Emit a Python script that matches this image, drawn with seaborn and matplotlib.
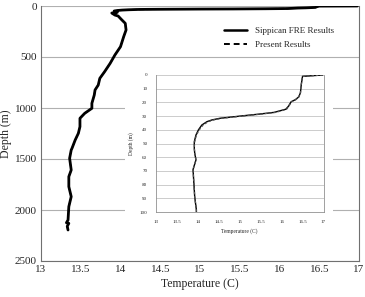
import numpy as np
import pandas as pd
import seaborn as sns
import matplotlib
matplotlib.use("Agg")
import matplotlib.pyplot as plt
from matplotlib.patches import Rectangle
from matplotlib.lines import Line2D

# full profile (depth m, temperature C) - Sippican FRE
deep_depth = [0, 1, 7, 14, 18, 20, 23, 25, 27, 29, 30, 32, 33, 34, 37, 40, 44, 49, 57, 62, 69,
              79, 89, 98, 131, 170, 235, 301, 399, 480, 562, 644, 709, 775, 823, 873, 954, 1003,
              1052, 1101, 1183, 1248, 1314, 1395, 1412, 1493, 1608, 1673, 1771, 1869, 1967,
              2098, 2125, 2131, 2160, 2196]
deep_temp = [16.98, 16.5, 16.47, 16.45, 16.33, 16.23, 16.16, 16.1, 15.82, 15.42, 15.01, 14.53,
             14.34, 14.22, 14.1, 14.02, 13.96, 13.92, 13.93, 13.96, 13.89, 13.91, 13.93, 13.97,
             14.01, 14.06, 14.07, 14.04, 14.0, 13.93, 13.87, 13.8, 13.74, 13.72, 13.68, 13.67,
             13.64, 13.64, 13.55, 13.49, 13.49, 13.47, 13.43, 13.39, 13.38, 13.36, 13.38, 13.35,
             13.35, 13.38, 13.35, 13.34, 13.32, 13.35, 13.33, 13.34]

# upper 100 m, Sippican FRE
fre_depth = [0, 1, 7, 13, 16, 18, 19.5, 23, 25, 27.3, 28.7, 30, 31.6, 32.8, 34.1, 36.5, 40,
             43.8, 48.7, 53.5, 57, 62, 69, 79, 89, 98.5, 100]
fre_temp = [16.98, 16.5, 16.47, 16.45, 16.41, 16.33, 16.23, 16.16, 16.1, 15.82, 15.42, 15.01,
            14.53, 14.34, 14.22, 14.1, 14.02, 13.96, 13.92, 13.92, 13.93, 13.96, 13.89, 13.91,
            13.93, 13.97, 13.97]

# upper 100 m, present results
pres_depth = [0, 1, 7, 13, 16, 18, 19.5, 23, 25, 27.3, 28.7, 30, 31.6, 32.8, 34.1, 36.5, 40,
              43.8, 48.7, 53.5, 57, 62, 69, 79, 89, 98.5, 100]
pres_temp = [16.98, 16.5, 16.47, 16.45, 16.41, 16.34, 16.24, 16.17, 16.12, 15.86, 15.47, 15.06,
             14.58, 14.38, 14.25, 14.13, 14.04, 13.97, 13.93, 13.92, 13.93, 13.96, 13.89, 13.91,
             13.93, 13.97, 13.97]

xticks = [13, 13.5, 14, 14.5, 15, 15.5, 16, 16.5, 17]
main_yticks = [0, 500, 1000, 1500, 2000, 2500]
inset_yticks = [0, 10, 20, 30, 40, 50, 60, 70, 80, 90, 100]

sns.set_style("white")
plt.rcParams["font.family"] = ["Liberation Serif", "DejaVu Serif"]

W, H = 365, 297
fig = plt.figure(figsize=(W / 100, H / 100), dpi=100)

def box(l, t, r, b):
    return [l / W, 1 - b / H, (r - l) / W, (b - t) / H]

ax = fig.add_axes(box(41, 6, 359, 261))
sns.lineplot(x=deep_temp, y=deep_depth, sort=False, estimator=None, color="black",
             linewidth=2.0, ax=ax)
sns.lineplot(x=deep_temp, y=deep_depth, sort=False, estimator=None, color="black",
             linewidth=1.0, linestyle="--", ax=ax)
ax.set_xlim(13, 17)
ax.set_ylim(2500, 0)
ax.set_xticks(xticks)
ax.set_xticklabels([f"{t:g}" for t in xticks])
ax.set_yticks(main_yticks)
ax.yaxis.grid(True, color="#b0b0b0", linewidth=0.8)
ax.tick_params(length=0, labelsize=8, pad=3)
ax.set_xlabel("Temperature (C)", fontsize=8.5, labelpad=3)
ax.set_ylabel("Depth (m)", fontsize=8.5, labelpad=2)
for s in ["left", "right", "bottom"]:
    ax.spines[s].set_color("#707070")
    ax.spines[s].set_linewidth(0.8)
ax.spines["top"].set_visible(False)

handles = [Line2D([], [], color="black", linewidth=1.8),
           Line2D([], [], color="black", linewidth=1.4, linestyle=(0, (3, 2)))]
fig.legend(handles, ["Sippican FRE Results", "Present Results"], loc="upper left",
           bbox_to_anchor=(224 / W, 1 - 27 / H), frameon=False, fontsize=6.5,
           borderpad=0, borderaxespad=0, handlelength=2.6, handletextpad=0.8,
           labelspacing=0.6)

# white panel behind the inset
fig.add_artist(Rectangle((125 / W, 1 - 240 / H), (333 - 125) / W, (240 - 66) / H,
                         transform=fig.transFigure, facecolor="white", edgecolor="none",
                         zorder=1))

ins = fig.add_axes(box(155.7, 75, 323.5, 212))
ins.set_zorder(2)
sns.lineplot(x=fre_temp, y=fre_depth, sort=False, estimator=None, color="black",
             linewidth=1.0, ax=ins)
sns.lineplot(x=pres_temp, y=pres_depth, sort=False, estimator=None, color="#555555",
             linewidth=0.9, linestyle=(0, (2, 1.5)), ax=ins)
ins.set_xlim(13, 17)
ins.set_ylim(100, 0)
ins.set_xticks(xticks)
ins.set_xticklabels([f"{t:g}" for t in xticks])
ins.set_yticks(inset_yticks)
ins.yaxis.grid(True, color="#c4c4c4", linewidth=0.6)
ins.tick_params(length=0, labelsize=3.6, pad=6)
ins.set_xlabel("Temperature (C)", fontsize=4, labelpad=3)
ins.set_ylabel("Depth (m)", fontsize=4, labelpad=4)
for s in ["left", "right", "bottom"]:
    ins.spines[s].set_color("#909090")
    ins.spines[s].set_linewidth(0.6)
ins.spines["top"].set_visible(False)

fig.savefig("out.png", dpi=100)
